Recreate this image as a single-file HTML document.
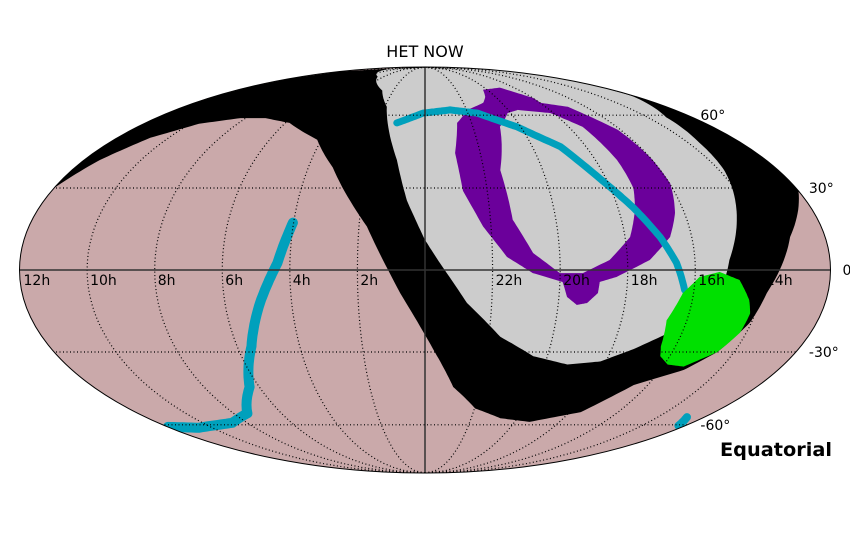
<!DOCTYPE html>
<html><head><meta charset="utf-8"><style>
html,body{margin:0;padding:0;background:#fff;}
svg{display:block;font-family:"DejaVu Sans","Liberation Sans",sans-serif;}
</style></head><body>
<svg id="chart" width="850" height="540" viewBox="0 0 850 540">
<defs><clipPath id="clip"><ellipse cx="425" cy="270" rx="405.5" ry="203"/></clipPath></defs>
<text x="425" y="57" text-anchor="middle" font-size="16" fill="#000">HET NOW</text>
<ellipse cx="425" cy="270" rx="405.5" ry="203" fill="#caa9aa"/>
<g id="regions" clip-path="url(#clip)"></g>
<g id="grid" clip-path="url(#clip)"></g>
<ellipse cx="425" cy="270" rx="405.5" ry="203" fill="none" stroke="#000" stroke-width="1"/>
<g id="labels" font-size="14" fill="#000"></g>
<text x="720" y="456" font-size="19" font-weight="bold" fill="#000" textLength="112" lengthAdjust="spacingAndGlyphs">Equatorial</text>
</svg>
<script>
// Region outlines in [RA hours, Dec degrees]
const blackRegion = [[12.0,30],[11.45,40.9],[10.71,50],[9.64,56.1],[8.23,58.7],[7.12,58.7],[5.82,56.5],[4.16,49.2],[3.16,37.9],[1.76,15.7],[0.74,-8.3],[23.74,-28.9],[22.98,-43.7],[21.97,-52.7],[20.74,-57],[19.33,-58.7],[17.54,-54.3],[16.5,-42.9],[15.2,-36.9],[14.54,-30],[14.05,-19.2],[13.82,-8.3],[13.05,11.9],[12.001,28.9],[12.001,89.9],[12.0,89.9]];
const grayRegion = [[4.6,81],[2.7,72.4],[1.9,64],[0.99,40.9],[0.57,25.3],[0,10.8],[23.56,2.5],[22.74,-11.9],[21.64,-24.3],[20.46,-31.6],[19.24,-34.8],[18.18,-33.6],[17.3,-28.9],[16.62,-24.3],[15.89,-18.9],[15.27,-10.8],[14.98,3.6],[14.44,19.2],[14.14,27.8],[13.83,36.9],[13.58,47.9],[13.16,59.1],[12.1,69.5],[12.001,80],[12.001,89.9],[8,88]];
const purpleOuter = [[20.27,72.9],[18.96,74.1],[17.97,68.5],[17.97,66],[16.89,64],[16.11,53.5],[15.99,42.1],[15.98,31.6],[16.29,20.7],[16.65,11.9],[17.34,3.6],[18.33,-2.5],[18.82,-4.3],[18.85,-8.3],[19.14,-11.9],[19.44,-12.6],[19.76,-9.7],[19.92,-4.3],[20.81,-1.1],[21.57,4.7],[22.24,15.7],[22.78,28.9],[22.91,43.7],[22.62,56.5],[21.97,62.5],[20.96,66],[20.59,69]];
const purpleInner = [[19.54,62.5],[18.14,61],[17.42,54.8],[17.24,40.9],[17.26,30],[17.5,21.7],[17.85,11.9],[18.53,3.6],[19.33,-1.1],[20.01,-1.1],[20.79,6.1],[21.32,18.2],[21.44,36.9],[20.87,54.8],[20.15,61]];
const cyanUpper = [[1.21,56.5],[0.09,61],[22.79,62.5],[21.56,61],[20.17,54.8],[18.95,46.3],[18.21,33.7],[17.53,22.8],[16.95,11.9],[16.55,2.5],[16.28,-7.2]];
const cyanLower = [[4.02,17.1],[4.37,2.5],[4.95,-11.9],[5.54,-27.8],[6.35,-43.7],[7.42,-54.8],[8.66,-59.1],[10.64,-61.4],[11.99,-61]];
const cyanSmall = [[12.75,-56.5],[12.3,-60.5]];
const greenRegion = [[16.47,-27.8],[16.62,-18.2],[16.32,-8.3],[15.87,-2.5],[15.28,-0.7],[14.68,-3.6],[14.3,-10.8],[14.15,-15.7],[14.2,-22.8],[14.54,-30],[15.3,-35.6],[15.89,-34.8],[16.31,-31.6]];
const raTicks = [12,10,8,6,4,2,0,22,20,18,16,14];
const raTickLabels = ["12h","10h","8h","6h","4h","2h","0h","22h","20h","18h","16h","14h"];
const decTicks = [60,30,0,-30,-60];
const decTickLabels = ["60°","30°","0°","-30°","-60°"];

const CX=425, CY=270, RX=405.5, RY=203;
const NS='http://www.w3.org/2000/svg';
function uOf(ra){ return ra>12 ? ra-24 : ra; }
function theta(dec){
  const phi=dec*Math.PI/180;
  if(Math.abs(dec)>=89.999) return Math.sign(dec)*Math.PI/2;
  let t=phi; const k=Math.PI*Math.sin(phi);
  for(let i=0;i<50;i++){ const f=2*t+Math.sin(2*t)-k; const d=2+2*Math.cos(2*t); if(Math.abs(d)<1e-9)break; t-=f/d; }
  return t;
}
function projU(u,dec){ const t=theta(dec); return [CX-RX*(u/12)*Math.cos(t), CY-RY*Math.sin(t)]; }
function densify(pts,closed){
  const out=[]; const n=pts.length; const m=closed?n:n-1;
  for(let i=0;i<m;i++){
    const a=pts[i], b=pts[(i+1)%n];
    const ua=uOf(a[0]), ub=uOf(b[0]);
    for(let s=0;s<12;s++){ const f=s/12; out.push(projU(ua+(ub-ua)*f, a[1]+(b[1]-a[1])*f)); }
  }
  if(!closed){ const l=pts[n-1]; out.push(projU(uOf(l[0]),l[1])); }
  return out;
}
function pathD(pts,closed){
  const p=densify(pts,closed);
  return 'M'+p.map(q=>q[0].toFixed(1)+','+q[1].toFixed(1)).join('L')+(closed?'Z':'');
}
const regions=document.getElementById('regions');
function addPath(parent,d,attrs){
  const el=document.createElementNS(NS,'path'); el.setAttribute('d',d);
  for(const k in attrs) el.setAttribute(k,attrs[k]);
  parent.appendChild(el); return el;
}
let e;
e=addPath(regions,pathD(blackRegion,true),{fill:'#000'});


e=addPath(regions,pathD(grayRegion,true),{fill:'#cccccc'});


e=addPath(regions,pathD(purpleOuter,true)+pathD(purpleInner,true),{fill:'#6b009b','fill-rule':'evenodd'});


e=addPath(regions,pathD(cyanUpper,false),{fill:'none',stroke:'#00a0bc','stroke-width':7,'stroke-linecap':'round','stroke-linejoin':'round'});


e=addPath(regions,pathD(cyanLower,false),{fill:'none',stroke:'#00a0bc','stroke-width':10,'stroke-linecap':'round','stroke-linejoin':'round'});


e=addPath(regions,pathD(cyanSmall,false),{fill:'none',stroke:'#00a0bc','stroke-width':8,'stroke-linecap':'round'});


e=addPath(regions,pathD(greenRegion,true),{fill:'#00e000'});



// grid
const grid=document.getElementById('grid');
for(let h=-10;h<=10;h+=2){
  const pts=[]; for(let d=-90;d<=90;d+=3) pts.push(projU(h,d));
  const d='M'+pts.map(q=>q[0].toFixed(1)+','+q[1].toFixed(1)).join('L');
  const solid=(h===0);
  e=addPath(grid,d,solid?{fill:'none',stroke:'#333',"stroke-width":1.5}:{fill:'none',stroke:'#000',"stroke-width":1.2,"stroke-dasharray":"1,2.5"});
  
  
}
decTicks.forEach(dec=>{
  const y=projU(0,dec)[1];
  const solid=(dec===0);
  e=addPath(grid,'M0,'+y.toFixed(1)+'L850,'+y.toFixed(1),solid?{stroke:'#333',"stroke-width":1.5}:{stroke:'#000',"stroke-width":1.2,"stroke-dasharray":"1,2.5"});
  
  
});

// labels
const labels=document.getElementById('labels');
raTicks.forEach((ra,i)=>{
  const u=(ra===12)?12:uOf(ra);
  const p=projU(u,0);
  const t=document.createElementNS(NS,'text');
  t.setAttribute('x',(p[0]+(ra===12?4:3)).toFixed(1)); t.setAttribute('y',285);
  t.textContent=raTickLabels[i];
  
  
  labels.appendChild(t);
});
decTicks.forEach((dec,i)=>{
  const p=projU(-12,dec);
  const t=document.createElementNS(NS,'text');
  t.setAttribute('x',(p[0]+(dec===0?12:13)).toFixed(1)); t.setAttribute('y',(p[1]+5).toFixed(1));
  t.textContent=decTickLabels[i];
  
  
  labels.appendChild(t);
});
</script>
</body></html>
